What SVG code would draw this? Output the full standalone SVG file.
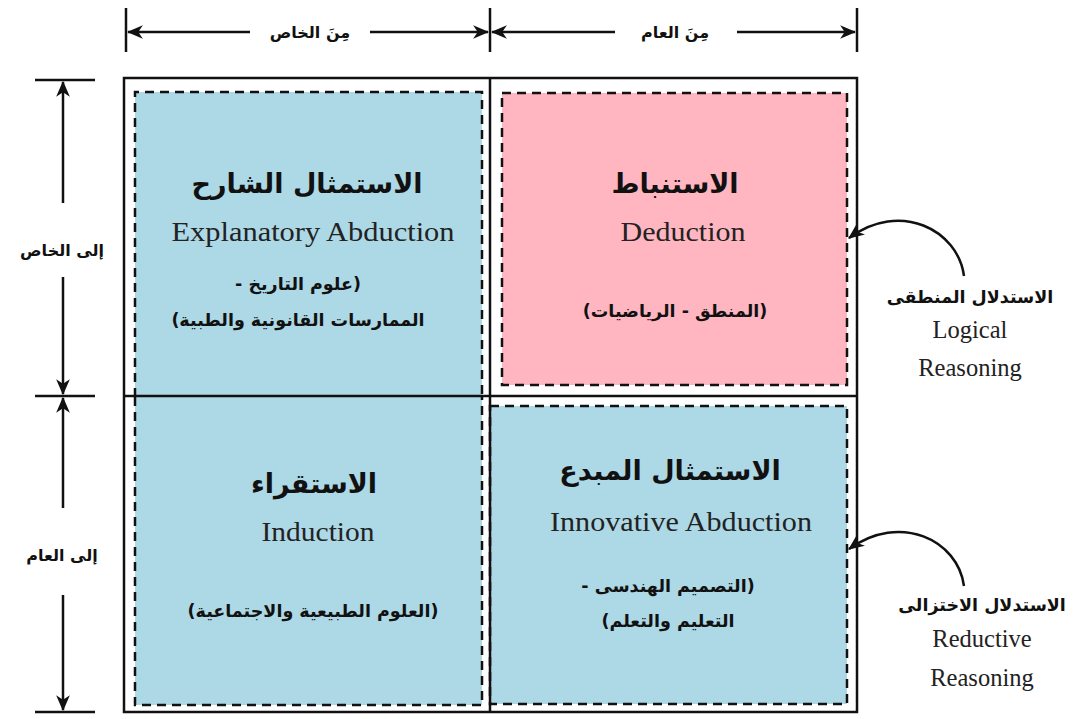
<svg xmlns="http://www.w3.org/2000/svg" width="1073" height="719" viewBox="0 0 1073 719">
<style>
.ar{font-family:"DejaVu Sans",sans-serif;font-weight:bold;fill:#111;text-anchor:middle;direction:rtl}
.en{font-family:"Liberation Serif","DejaVu Serif",serif;fill:#222;text-anchor:middle}
.t1{font-size:27px}
.t2{font-size:17.5px}
.lbl{font-size:16px}
.e1{font-size:27px}
.e2{font-size:24.5px}
.solid{stroke:#111;stroke-width:2.5;fill:none}
.dash{stroke:#111;stroke-width:2.5;fill:none;stroke-dasharray:9,6}
.ln{stroke:#111;stroke-width:2.5;fill:none}
</style>
<defs>
<marker id="ah" viewBox="0 0 14 12" refX="13" refY="6" markerWidth="16" markerHeight="14" markerUnits="userSpaceOnUse" orient="auto">
<path d="M0,0 L14,6 L0,12 L4,6 z" fill="#111"/>
</marker>
</defs>
<rect width="1073" height="719" fill="#fff"/>

<g id="node-tl">
<rect x="135" y="92" width="347" height="305" fill="#ADD8E6"/>
<path class="dash" d="M135,397 V92 H482 V397"/>
<text class="ar t1" x="307" y="193" direction="rtl">الاستمثال الشارح</text>
<text class="en e1" x="313" y="241" textLength="283" lengthAdjust="spacingAndGlyphs">Explanatory Abduction</text>
<text class="ar t2" x="298" y="290" direction="rtl">(علوم التاريخ -</text>
<text class="ar t2" x="298" y="326" direction="rtl">الممارسات القانونية والطبية)</text>
</g>

<g id="node-tr">
<rect x="502" y="93" width="345" height="292" fill="#FFB6C1"/>
<rect class="dash" x="502" y="93" width="345" height="292"/>
<text class="ar t1" x="675" y="193" direction="rtl">الاستنباط</text>
<text class="en e1" x="683" y="241" textLength="125" lengthAdjust="spacingAndGlyphs">Deduction</text>
<text class="ar t2" x="675" y="317" direction="rtl">(المنطق - الرياضيات)</text>
</g>

<g id="node-bl">
<rect x="135" y="397" width="347" height="308" fill="#ADD8E6"/>
<path class="dash" d="M135,397 V705 H482 V397"/>
<text class="ar t1" x="314" y="493" direction="rtl">الاستقراء</text>
<text class="en e1" x="318" y="541" textLength="113" lengthAdjust="spacingAndGlyphs">Induction</text>
<text class="ar t2" x="313" y="617" direction="rtl">(العلوم الطبيعية والاجتماعية)</text>
</g>

<g id="node-br">
<rect x="490" y="406" width="357" height="298" fill="#ADD8E6"/>
<rect class="dash" x="490" y="406" width="357" height="298"/>
<text class="ar t1" x="670" y="480" direction="rtl">الاستمثال المبدع</text>
<text class="en e1" x="681" y="531" textLength="262" lengthAdjust="spacingAndGlyphs">Innovative Abduction</text>
<text class="ar t2" x="668" y="592" direction="rtl">(التصميم الهندسى -</text>
<text class="ar t2" x="668" y="627" direction="rtl">التعليم والتعلم)</text>
</g>

<g id="frame">
<rect class="solid" x="124" y="78" width="733" height="634"/>
<line class="solid" x1="490" y1="78" x2="490" y2="712"/>
<line class="solid" x1="124" y1="396" x2="857" y2="396"/>
</g>

<g id="label-logical">
<text class="ar t2" x="970" y="303" direction="rtl">الاستدلال المنطقى</text>
<text class="en e2" x="970" y="338">Logical</text>
<text class="en e2" x="970" y="376">Reasoning</text>
</g>
<g id="label-reductive">
<text class="ar t2" x="982" y="611" direction="rtl">الاستدلال الاختزالى</text>
<text class="en e2" x="982" y="647">Reductive</text>
<text class="en e2" x="982" y="686">Reasoning</text>
</g>
<g id="axis-labels">
<text class="ar lbl" x="310" y="38" direction="rtl">مِنَ الخاص</text>
<text class="ar lbl" x="675" y="38" direction="rtl">مِنَ العام</text>
<text class="ar lbl" x="62" y="256" direction="rtl">إلى الخاص</text>
<text class="ar lbl" x="62" y="561" direction="rtl">إلى العام</text>
</g>

<g id="connectors">
<line class="ln" x1="126" y1="8" x2="126" y2="52"/>
<line class="ln" x1="490" y1="8" x2="490" y2="52"/>
<line class="ln" x1="857" y1="8" x2="857" y2="52"/>
<line class="ln" x1="250" y1="32" x2="128" y2="32" marker-end="url(#ah)"/>
<line class="ln" x1="370" y1="32" x2="488" y2="32" marker-end="url(#ah)"/>
<line class="ln" x1="615" y1="32" x2="492" y2="32" marker-end="url(#ah)"/>
<line class="ln" x1="737" y1="32" x2="855" y2="32" marker-end="url(#ah)"/>
<line class="ln" x1="35" y1="80" x2="95" y2="80"/>
<line class="ln" x1="35" y1="396" x2="95" y2="396"/>
<line class="ln" x1="35" y1="712" x2="95" y2="712"/>
<line class="ln" x1="63" y1="203" x2="63" y2="82" marker-end="url(#ah)"/>
<line class="ln" x1="63" y1="277" x2="63" y2="394" marker-end="url(#ah)"/>
<line class="ln" x1="63" y1="508" x2="63" y2="398" marker-end="url(#ah)"/>
<line class="ln" x1="63" y1="595" x2="63" y2="710" marker-end="url(#ah)"/>
<path class="ln" d="M964,276 C958,230 900,200 849,238" marker-end="url(#ah)"/>
<path class="ln" d="M964,586 C958,540 900,512 849,549" marker-end="url(#ah)"/>
</g>
</svg>
